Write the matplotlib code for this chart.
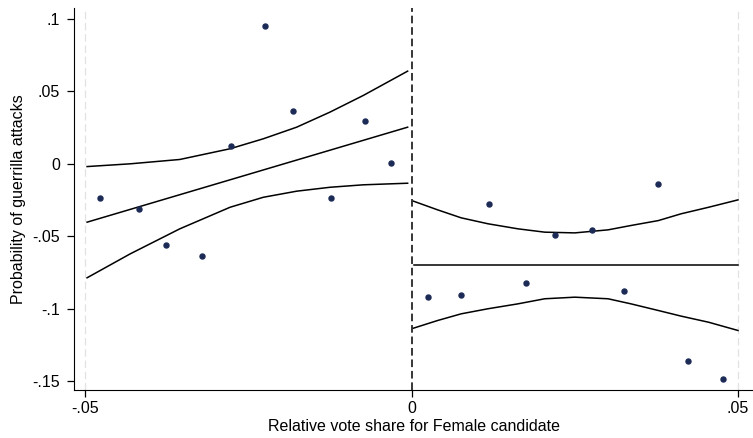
import matplotlib.pyplot as plt

plt.rcParams['font.family'] = ['Liberation Sans', 'DejaVu Sans']

# binned means
bin_x = [-0.0477, -0.0418, -0.0376, -0.0321, -0.0276, -0.0225, -0.0181, -0.0123, -0.0072, -0.0032,
         0.0025, 0.0075, 0.0118, 0.0175, 0.0219, 0.0277, 0.0326, 0.0378, 0.0424, 0.0477]
bin_y = [-0.0238, -0.0311, -0.0564, -0.0640, 0.0124, 0.0955, 0.0368, -0.0238, 0.0299, 0.0007,
         -0.0917, -0.0907, -0.0279, -0.0824, -0.0490, -0.0456, -0.0877, -0.0141, -0.1363, -0.1485]

# left side fit (straight) and confidence band
left_fit_x = [-0.0497, -0.0006]
left_fit = [-0.0403, 0.0253]
left_x = [-0.0497, -0.0431, -0.0355, -0.0278, -0.0227, -0.0176, -0.0125, -0.0074, -0.0006]
left_hi = [-0.0019, 0.0000, 0.0030, 0.0104, 0.0173, 0.0253, 0.0357, 0.0472, 0.0640]
left_lo = [-0.0787, -0.0622, -0.0449, -0.0300, -0.0231, -0.0189, -0.0162, -0.0145, -0.0134]

# right side fit (flat) and confidence band
right_fit_x = [0.0003, 0.0500]
right_fit = [-0.0698, -0.0698]
right_x = [0.0003, 0.0040, 0.0076, 0.0117, 0.0163, 0.0204, 0.0250, 0.0301, 0.0336,
           0.0378, 0.0413, 0.0455, 0.0500]
right_hi = [-0.0258, -0.0318, -0.0373, -0.0414, -0.0449, -0.0472, -0.0477, -0.0456, -0.0426,
            -0.0392, -0.0345, -0.0300, -0.0249]
right_lo = [-0.1135, -0.1082, -0.1036, -0.1001, -0.0967, -0.0932, -0.0921, -0.0932, -0.0967,
            -0.1013, -0.1052, -0.1094, -0.1151]

fig = plt.figure(figsize=(7.53, 4.38), dpi=100)
ax = fig.add_axes([0.0983, 0.1096, 0.9017, 0.8721])

for xv in [-0.05, 0.05]:
    ax.axvline(xv, color='#e2e2e2', lw=0.9, ls=(0, (6, 3)), zorder=0)
ax.axvline(0, color='black', lw=1.1, ls=(0, (5, 2.5)), zorder=1)

for xs, ys in [(left_fit_x, left_fit), (left_x, left_hi), (left_x, left_lo),
               (right_fit_x, right_fit), (right_x, right_hi), (right_x, right_lo)]:
    ax.plot(xs, ys, color='black', lw=1.1, zorder=2)

ax.plot(bin_x, bin_y, 'o', color='#1c2b55', ms=3.6, zorder=3)

ax.set_xlim(-0.0517, 0.0523)
ax.set_ylim(-0.1562, 0.1076)
ax.set_xticks([-0.05, 0, 0.05])
ax.set_xticklabels(['-.05', '0', '.05'])
ax.set_yticks([0.1, 0.05, 0, -0.05, -0.1, -0.15])
ax.set_yticklabels(['.1', '.05', '0', '-.05', '-.1', '-.15'])
ax.tick_params(axis='y', labelsize=11.5, length=5, width=0.9, pad=5)
ax.tick_params(axis='x', labelsize=11.5, length=5, width=0.9, pad=3)

ax.spines['top'].set_visible(False)
ax.spines['right'].set_visible(False)
ax.set_xlabel('Relative vote share for Female candidate', fontsize=11.5, labelpad=2)
ax.set_ylabel('Probability of guerrilla attacks', fontsize=11.5, labelpad=5)

fig.savefig('out.png', dpi=100)
